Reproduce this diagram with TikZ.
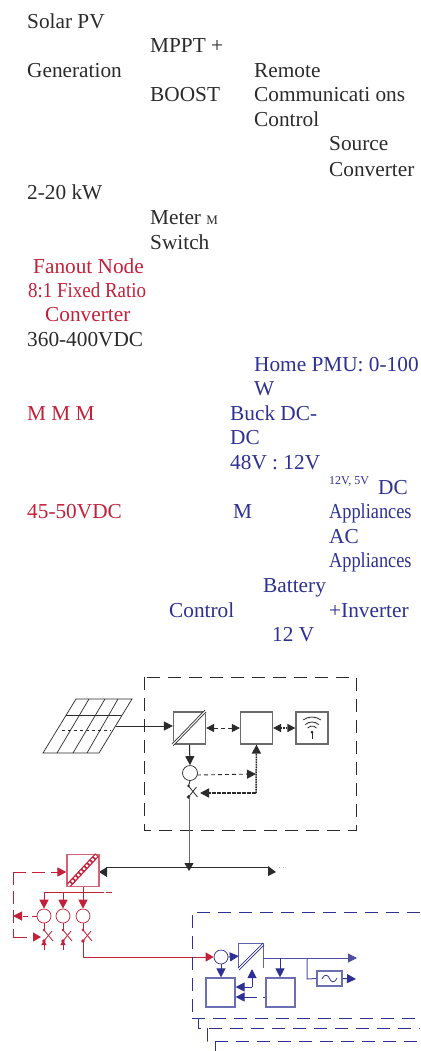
\documentclass[tikz,border=0pt]{standalone}
\usepackage{fontspec}
\setmainfont{Liberation Serif}
\usepackage{xcolor}
\usetikzlibrary{arrows.meta,positioning,calc,shapes.geometric}
\definecolor{inkdark}{HTML}{2B2B2B}
\definecolor{inkred}{HTML}{C4203A}
\definecolor{inkblue}{HTML}{2E3192}
\tikzset{
    lbl/.style={anchor=base west, inner sep=0pt, font=\fontsize{21.3}{24}\selectfont},
    squeezed/.style={xscale=#1, transform shape},
    smalllbl/.style={anchor=base west, inner sep=0pt, font=\fontsize{12}{14}\selectfont},
    blockbox/.style={draw=#1!70, line width=1.2pt, inner sep=0pt},
    meter/.style={draw, circle, line width=0.7pt, inner sep=0pt, minimum size=#1},
    arr/.style={-{Triangle[length=9pt,width=9pt]}, line width=1pt},
    twoarr/.style={{Triangle[length=8pt,width=8pt]}-{Triangle[length=8pt,width=8pt]}, line width=1pt},
    longdash/.style={dash pattern=on 13pt off 8pt, line width=0.9pt},
    shortdash/.style={dash pattern=on 4pt off 3pt, line width=0.9pt},
    dotline/.style={dash pattern=on 1.6pt off 0.9pt, line width=1.5pt},
}
\newcommand{\swsign}[1]{%
    \draw[line width=0.8pt] ($(#1)+(0,-6)$) -- ($(#1)+(9,5)$);
    \draw[line width=0.8pt] ($(#1)+(0,5)$) -- ($(#1)+(8,-5)$);
    \fill ($(#1)+(0,-6)$) circle (1.3pt) ($(#1)+(0,5)$) circle (1.8pt);
}
\begin{document}
\begin{tikzpicture}[x=1pt, y=-1pt]
    \useasboundingbox[fill=white] (0,0) rectangle (420,1051);

    % black labels
    \begin{scope}[every node/.append style={lbl, text=inkdark}]
    \node (solar1) at (27,29) {Solar PV};
    \node (solar2) at (27,78) {Generation};
    \node (solar3) at (27,200) {2-20 kW};
    \node (mppt1) at (150,53) {MPPT +};
    \node (mppt2) at (150,102) {BOOST};
    \node (remote1) at (254,78) {Remote};
    \node (remote2) at (254,102) {Communicati ons};
    \node (remote3) at (254,127) {Control};
    \node (source1) at (329,151) {Source};
    \node (source2) at (329,176) {Converter};
    \node (meter1) at (150,224.5) {Meter {\fontsize{13}{14}\selectfont M}};
    \node (switch1) at (150,249) {Switch};
    \node (hvdc) at (27,346) {360-400VDC};
    \end{scope}

    % red labels
    \begin{scope}[every node/.append style={lbl, text=inkred}]
    \node (fanout1) at (33,273) {Fanout Node};
    \node[squeezed=0.89] (fanout2) at (28,297) {8:1 Fixed Ratio};
    \node (fanout3) at (45,321) {Converter};
    \node (mmm) at (27,420) {M M M};
    \node (lvdc) at (27,518) {45-50VDC};
    \end{scope}

    % blue labels
    \begin{scope}[every node/.append style={lbl, text=inkblue}]
    \node (pmu1) at (254,371) {Home PMU: 0-100};
    \node (pmu2) at (254,395) {W};
    \node (buck1) at (230,420) {Buck DC-};
    \node (buck2) at (230,444) {DC};
    \node (buck3) at (230,469) {48V : 12V};
    \node (dcapp1) at (378,494) {DC};
    \node[squeezed=0.86] (dcapp2) at (329,518) {Appliances};
    \node (mblue) at (233,518) {M};
    \node (acapp1) at (329,543) {AC};
    \node[squeezed=0.86] (acapp2) at (329,567) {Appliances};
    \node (batt1) at (263,592) {Battery};
    \node (ctrl) at (169,617) {Control};
    \node (batt2) at (329,617) {+Inverter};
    \node (batt3) at (272,641) {12 V};
    \node[smalllbl] (volts) at (329,484) {12V, 5V};
    \end{scope}

    % source converter
    \begin{scope}[color=inkdark]
    \draw[longdash] (144,677) rectangle (356,830);

    \draw[line width=0.7pt] (76,699) -- (132,699) -- (99,753) -- (43,753) -- cycle;
    \draw[line width=0.7pt] (89,699) -- (57,753) (105,699) -- (73,753) (118,699) -- (87,753);
    \draw[line width=0.9pt] (66,715) -- (122,715);
    \draw[line width=0.6pt, dashed] (62,730) -- (111,730);
    \coordinate (pv) at (116,726);

    \node[blockbox=inkdark, minimum size=32pt] (conv) at (189.5,728) {};
    \node[blockbox=inkdark, minimum size=32pt] (mcu) at (256.5,728) {};
    \node[blockbox=inkdark, minimum size=32pt] (comm) at (312,728) {};
    \draw[white, line width=3pt] (172,745) -- (206,711);
    \draw[line width=0.7pt] (172,744) -- (205,710) (173,746) -- (206,712);

    \foreach \r/\a in {6/48,10/42,15/36} {
        \draw[line width=0.8pt] ($(comm.center)+(0,4)+({90-\a}:\r pt)$) arc[start angle=90-\a, end angle=90+\a, radius=\r pt];
    }
    \fill ($(comm.center)+(0,4)$) circle (1.5pt);
    \draw[line width=0.9pt] ($(comm.center)+(0,4)$) -- ++(0,7);

    \draw[arr] (pv) -- (pv -| conv.west);
    \draw[twoarr, shortdash] (conv.east) -- (mcu.west);
    \draw[twoarr, dotline] (mcu.east) -- (comm.west);
    \node[meter=15pt] (cm) at (190,773) {};
    \draw[arr] (conv.south) -- (cm.north);
    \coordinate (swp) at (188.5,792);
    \swsign{swp}
    \draw[line width=0.9pt] (cm.south) -- ($(swp)+(0,-6)$);
    \coordinate (dotc) at (256,793);
    \coordinate (cmj) at (256,774);
    \coordinate (cmout) at (197,775);
    \draw[arr, shortdash] (cmout) -- (cmj);
    \draw[arr, dotline] (dotc) -- (200,793);
    \draw[arr, dotline] (dotc) -- (mcu.south);

    % bus
    \coordinate (busl) at (106,867);
    \coordinate (busr) at (268,867);
    \draw[line width=1pt] (busl) -- (busr);
    \draw[line width=1pt, color=inkdark!70] ($(swp)+(0.5,5)$) -- (189,863);
    \draw[-{Triangle[length=8pt,width=9pt]}, line width=1pt] (189,863) -- (189,871);
    \fill (268,866) -- (276,872) -- (268,876) -- cycle;
    \fill (107,867) -- (99,872) -- (107,877) -- cycle;
    \draw[line width=0.6pt, color=gray!60, dash pattern=on 1pt off 3pt] (279,867) -- (284,867);
    \end{scope}

    % fanout node
    \begin{scope}[color=inkred]
    \node[blockbox=inkred, minimum size=32pt] (fan) at (83,870.5) {};
    \draw[line width=5pt] (69,885) -- (97,855);
    \draw[white, line width=2.4pt, dash pattern=on 2.2pt off 2pt] (69,885) -- (97,855);
    \coordinate (fanl) at (13,872);
    \coordinate (fanb) at (13,937);
    \draw[arr, dash pattern=on 13pt off 6pt] (fanl) -- (fan.west |- fanl);
    \draw[line width=0.9pt, dash pattern=on 13pt off 6pt] (fanl) -- (fanb);
    \draw[line width=0.9pt] (fanb) -- (27,937);
    \draw[-{Triangle[length=8pt,width=9pt]}, line width=1pt] (33,937) -- (41,937);
    \draw[line width=1pt] (44,892) -- (104,892);
    \draw[line width=1pt] (106,892) -- (112,892);
    \draw[line width=1pt] (fan.south -| 83,0) -- (83,902);
    \foreach \n/\xpos in {a/44,b/63,c/83} {
        \node[meter=14pt] (m\n) at (\xpos,916) {};
        \coordinate (t\n) at (\xpos,892);
        \draw[arr] (t\n) -- (m\n.north);
        \coordinate (s\n) at (\xpos,936);
        \swsign{s\n}
        \draw[line width=0.9pt] (m\n.south) -- ($(s\n)+(0,-6)$);
    }
    \foreach \n/\xpos in {a/44,b/63} {
        \coordinate (u\n) at (\xpos,950);
        \draw[-{Triangle[length=5pt,width=5pt]}, line width=1pt] (u\n) -- (\xpos,940);
    }
    \draw[arr, dash pattern=on 5pt off 4pt] (ma.west) -- (13,916);
    \coordinate (feed) at (83,957);
    \draw[line width=1pt] ($(sc)+(0,5)$) -- (feed) -- (205,957);
    \end{scope}

    % home pmu
    \begin{scope}[color=inkblue]
    \draw[longdash] (420,912) -- (192,912) -- (192,1018);
    \draw[longdash] (192,1018) -- (420,1018);
    \draw[longdash] (198,1018) -- (198,1028) -- (420,1028);
    \draw[longdash] (207,1028) -- (207,1041) -- (420,1041);
    \draw[longdash] (215,1041) -- (215,1051);

    \node[meter=14pt] (mh) at (221,957) {};
    \draw[-{Triangle[length=8pt,width=9pt]}, line width=1pt, inkred] (205,957) -- (mh.west);
    \node[minimum width=24pt, minimum height=24pt, inner sep=0pt] (buck) at (251,956) {};
    \draw[line width=1pt, color=inkblue!75] (buck.south west) -- (buck.north west) -- (buck.north east) -- (buck.south east);
    \draw[line width=0.7pt] (238,968) -- (263,943) (239,970) -- (264,945);
    \draw[arr] (mh.east) -- (buck.west);
    \node[blockbox=inkblue, minimum size=29pt] (ctl) at (220.5,992.5) {};
    \node[blockbox=inkblue, minimum size=29pt] (bat) at (280.5,992.5) {};
    \node[blockbox=inkblue, minimum width=25pt, minimum height=15pt] (filt) at (329.5,978.5) {};
    \draw[line width=0.8pt] (322,979) .. controls (325,973) and (328,975) .. (329.5,978.5) .. controls (331,982) and (334,984) .. (337,978);

    \coordinate (dcout) at (357,958);
    \coordinate (busa) at (263,958);
    \coordinate (busb) at (280,958);
    \coordinate (busc) at (307,958);
    \coordinate (acout) at (356,979);
    \draw[arr, color=inkblue!85] (busa) -- (dcout);
    \draw[arr] (busb) -- (bat.north -| busb);
    \draw[line width=1pt, color=inkblue!85] (busc) -- (307,979) -- (filt.west);
    \draw[arr] (filt.east) -- (acout);
    \draw[arr] (mh.south) -- (ctl.north -| mh);
    \coordinate (fb) at (252,987);
    \draw[arr] (fb) -- (ctl.east |- fb);
    \draw[arr] (fb) -- (252,969);
    \coordinate (fc) at (257,997);
    \draw[arr] (fc) -- (ctl.east |- fc);
    \draw[line width=1pt] (263,997) -- (bat.west |- fc);
    \end{scope}
\end{tikzpicture}
\end{document}
